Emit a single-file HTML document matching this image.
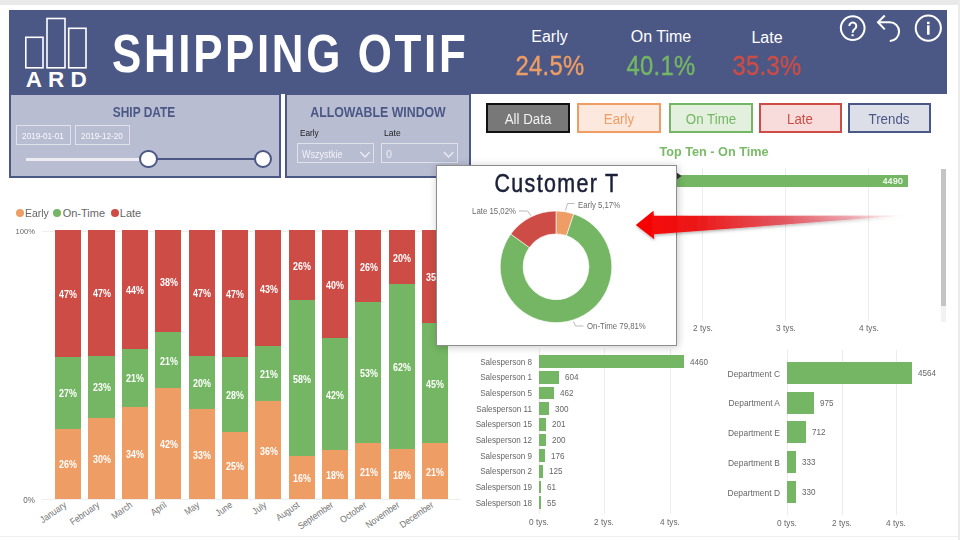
<!DOCTYPE html>
<html><head><meta charset="utf-8"><style>
html,body{margin:0;padding:0;}
body{width:960px;height:540px;overflow:hidden;background:#fff;position:relative;font-family:"Liberation Sans", sans-serif;}
.t{position:absolute;white-space:nowrap;}
.r{position:absolute;box-sizing:content-box;}
svg.r{overflow:visible;}
</style></head><body>
<div class="r" style="left:0px;top:0px;width:960px;height:5px;background:#e9e9e9;"></div>
<div class="r" style="left:958px;top:0px;width:2px;height:540px;background:#ebebeb;"></div>
<div class="r" style="left:0px;top:536px;width:958px;height:1px;background:#eeeeee;"></div>
<div class="r" style="left:9px;top:10px;width:937.6px;height:83.6px;background:#4b5886;"></div>
<svg class="r" style="left:0;top:0" width="120" height="100">
<g fill="none" stroke="#fff" stroke-width="1.6">
<rect x="25.8" y="37.3" width="17.2" height="30.5"/>
<rect x="47" y="18.5" width="18" height="49.3"/>
<rect x="68.7" y="28.3" width="17.3" height="39.5"/>
</g></svg>
<div class="t" style="left:-466.20px;width:1000px;top:68.75px;font-size:22.5px;line-height:22.5px;color:#fff;font-weight:bold;text-align:center;">A</div>
<div class="t" style="left:-444.00px;width:1000px;top:68.75px;font-size:22.5px;line-height:22.5px;color:#fff;font-weight:bold;text-align:center;">R</div>
<div class="t" style="left:-421.30px;width:1000px;top:68.75px;font-size:22.5px;line-height:22.5px;color:#fff;font-weight:bold;text-align:center;">D</div>
<div class="t" style="left:112.00px;top:26.71px;font-size:53.5px;line-height:53.5px;color:#fff;font-weight:bold;text-align:left;transform:scaleX(0.82);transform-origin:0 0;letter-spacing:3.25px;">SHIPPING OTIF</div>
<div class="t" style="left:49.50px;width:1000px;top:28.96px;font-size:16px;line-height:16px;color:#fff;font-weight:normal;text-align:center;">Early</div>
<div class="t" style="left:49.50px;width:1000px;top:52.30px;font-size:28px;line-height:28px;color:#ee9d64;font-weight:normal;text-align:center;transform:scaleX(0.85);transform-origin:50% 0;letter-spacing:0.4px;-webkit-text-stroke:0.4px #ee9d64;">24.5%</div>
<div class="t" style="left:161.00px;width:1000px;top:28.96px;font-size:16px;line-height:16px;color:#fff;font-weight:normal;text-align:center;">On Time</div>
<div class="t" style="left:161.00px;width:1000px;top:52.30px;font-size:28px;line-height:28px;color:#74b663;font-weight:normal;text-align:center;transform:scaleX(0.85);transform-origin:50% 0;letter-spacing:0.4px;-webkit-text-stroke:0.4px #74b663;">40.1%</div>
<div class="t" style="left:267.00px;width:1000px;top:30.46px;font-size:16px;line-height:16px;color:#fff;font-weight:normal;text-align:center;">Late</div>
<div class="t" style="left:267.00px;width:1000px;top:52.30px;font-size:28px;line-height:28px;color:#cd4d46;font-weight:normal;text-align:center;transform:scaleX(0.85);transform-origin:50% 0;letter-spacing:0.4px;-webkit-text-stroke:0.4px #cd4d46;">35.3%</div>
<svg class="r" style="left:830px;top:0" width="130" height="60">
<g fill="none" stroke="#fff" stroke-width="2">
<circle cx="22.7" cy="28.1" r="11.85"/>
<circle cx="98.3" cy="28.1" r="12.6"/>
<path d="M47.6 22.3 H59.8 A9.3 9.3 0 0 1 59.8 40.9 H61"/>
<path d="M54.75 15.5 L48 22.3 L54.75 29.4"/>
<path d="M98.3 25.3 V34.7" stroke-width="2.6"/>
<path d="M19.3 26 A3.5 3.5 0 1 1 24.9 28.8 Q22.6 30.2 22.6 32.8"/>
</g>
<rect x="97" y="21.7" width="2.6" height="2.4" fill="#fff"/>
<rect x="21.5" y="34.3" width="2.2" height="1.9" fill="#fff"/>
</svg>
<div class="r" style="left:9px;top:93px;width:268px;height:80.5px;background:#b8bdd2;border:2px solid #4b5886;"></div>
<div class="t" style="left:-356.00px;width:1000px;top:105.15px;font-size:14px;line-height:14px;color:#4b5886;font-weight:bold;text-align:center;transform:scaleX(0.85);transform-origin:50% 0;">SHIP DATE</div>
<div class="r" style="left:16px;top:125px;width:53px;height:17.5px;border:1px solid #dfe1eb;"></div>
<div class="r" style="left:75px;top:125px;width:52.7px;height:17.5px;border:1px solid #dfe1eb;"></div>
<div class="t" style="left:-457.00px;width:1000px;top:130.96px;font-size:9.5px;line-height:9.5px;color:#f8f9fc;font-weight:normal;text-align:center;transform:scaleX(0.86);transform-origin:50% 0;">2019-01-01</div>
<div class="t" style="left:-398.00px;width:1000px;top:130.96px;font-size:9.5px;line-height:9.5px;color:#f8f9fc;font-weight:normal;text-align:center;transform:scaleX(0.86);transform-origin:50% 0;">2019-12-20</div>
<div class="r" style="left:26px;top:158px;width:123px;height:2.5px;background:#ececf2;"></div>
<div class="r" style="left:148px;top:158px;width:115px;height:2px;background:#4b5886;"></div>
<div class="r" style="left:139.3px;top:149.8px;width:14.5px;height:14.5px;border-radius:50%;background:#fff;border:2px solid #4b5886;"></div>
<div class="r" style="left:253.7px;top:149.8px;width:14.5px;height:14.5px;border-radius:50%;background:#fff;border:2px solid #4b5886;"></div>
<div class="r" style="left:285px;top:93px;width:182px;height:80.5px;background:#b8bdd2;border:2px solid #4b5886;"></div>
<div class="t" style="left:-122.00px;width:1000px;top:105.15px;font-size:14px;line-height:14px;color:#4b5886;font-weight:bold;text-align:center;transform:scaleX(0.88);transform-origin:50% 0;">ALLOWABLE WINDOW</div>
<div class="t" style="left:299.50px;top:128.46px;font-size:9.5px;line-height:9.5px;color:#222;font-weight:normal;text-align:left;transform:scaleX(0.86);transform-origin:0 0;">Early</div>
<div class="t" style="left:383.50px;top:128.46px;font-size:9.5px;line-height:9.5px;color:#222;font-weight:normal;text-align:left;transform:scaleX(0.9);transform-origin:0 0;">Late</div>
<div class="r" style="left:297px;top:143px;width:75px;height:17.8px;border:1px solid #dfe1eb;"></div>
<div class="r" style="left:381px;top:143px;width:75px;height:17.8px;border:1px solid #dfe1eb;"></div>
<div class="t" style="left:301.50px;top:148.61px;font-size:10.5px;line-height:10.5px;color:#f2f3f8;font-weight:normal;text-align:left;transform:scaleX(0.86);transform-origin:0 0;">Wszystkie</div>
<div class="t" style="left:386.00px;top:148.61px;font-size:10.5px;line-height:10.5px;color:#eceef5;font-weight:normal;text-align:left;">0</div>
<svg class="r" style="left:0;top:0" width="480" height="180"><g fill="none" stroke="#eceef5" stroke-width="1.2">
<path d="M360.3 152 L365 157 L369.7 152"/><path d="M443.9 152 L448.6 157 L453.3 152"/></g></svg>
<div class="r" style="left:486px;top:103px;width:79.5px;height:25.6px;border:2px solid #111;background:#787878;"></div>
<div class="t" style="left:27.75px;width:1000px;top:112.35px;font-size:14px;line-height:14px;color:#f2f2f2;font-weight:normal;text-align:center;transform:scaleX(0.95);transform-origin:50% 0;">All Data</div>
<div class="r" style="left:577px;top:103px;width:80px;height:25.6px;border:2px solid #ee9d64;background:#fce8dd;"></div>
<div class="t" style="left:119.00px;width:1000px;top:112.35px;font-size:14px;line-height:14px;color:#ee9d64;font-weight:normal;text-align:center;transform:scaleX(0.95);transform-origin:50% 0;">Early</div>
<div class="r" style="left:669px;top:103px;width:79.5px;height:25.6px;border:2px solid #74b663;background:#e3f0dd;"></div>
<div class="t" style="left:210.75px;width:1000px;top:112.35px;font-size:14px;line-height:14px;color:#74b663;font-weight:normal;text-align:center;transform:scaleX(0.95);transform-origin:50% 0;">On Time</div>
<div class="r" style="left:758.5px;top:103px;width:79.5px;height:25.6px;border:2px solid #cd4d46;background:#f8dcdc;"></div>
<div class="t" style="left:300.25px;width:1000px;top:112.35px;font-size:14px;line-height:14px;color:#cd4d46;font-weight:normal;text-align:center;transform:scaleX(0.95);transform-origin:50% 0;">Late</div>
<div class="r" style="left:848px;top:103px;width:78.5px;height:25.6px;border:2px solid #4b5886;background:#dcdee8;"></div>
<div class="t" style="left:389.25px;width:1000px;top:112.35px;font-size:14px;line-height:14px;color:#4b5886;font-weight:normal;text-align:center;transform:scaleX(0.95);transform-origin:50% 0;">Trends</div>
<div class="t" style="left:214.00px;width:1000px;top:144.80px;font-size:13px;line-height:13px;color:#7aba68;font-weight:bold;text-align:center;transform:scaleX(0.975);transform-origin:50% 0;">Top Ten - On Time</div>
<div class="r" style="left:702px;top:168px;width:1px;height:153px;background:#ececec;"></div>
<div class="r" style="left:785px;top:168px;width:1px;height:153px;background:#ececec;"></div>
<div class="r" style="left:868px;top:168px;width:1px;height:153px;background:#ececec;"></div>
<div class="r" style="left:660px;top:174.8px;width:248.2px;height:11.9px;background:#74b663;"></div>
<div class="t" style="left:-97.30px;width:1000px;top:176.78px;font-size:9px;line-height:9px;color:#fff;font-weight:normal;text-align:right;transform:scaleX(0.95);transform-origin:100% 0;letter-spacing:0.3px;-webkit-text-stroke:0.2px #fff;">4490</div>
<div class="t" style="left:202.50px;width:1000px;top:323.88px;font-size:9px;line-height:9px;color:#666;font-weight:normal;text-align:center;transform:scaleX(0.92);transform-origin:50% 0;">2 tys.</div>
<div class="t" style="left:285.50px;width:1000px;top:323.88px;font-size:9px;line-height:9px;color:#666;font-weight:normal;text-align:center;transform:scaleX(0.92);transform-origin:50% 0;">3 tys.</div>
<div class="t" style="left:368.50px;width:1000px;top:323.88px;font-size:9px;line-height:9px;color:#666;font-weight:normal;text-align:center;transform:scaleX(0.92);transform-origin:50% 0;">4 tys.</div>
<div class="r" style="left:940.5px;top:168.5px;width:5.5px;height:153px;background:#f2f2f2;"></div>
<div class="r" style="left:941px;top:168.5px;width:5px;height:137.5px;background:#c4c4c4;"></div>
<svg class="r" style="left:672px;top:168px" width="12" height="16"><path d="M4 4 L9.5 8 L4 12 Z" fill="#333"/></svg>
<div class="r" style="left:539.2px;top:349px;width:1px;height:165px;background:#ececec;"></div>
<div class="r" style="left:604.4px;top:349px;width:1px;height:165px;background:#ececec;"></div>
<div class="r" style="left:669.6px;top:349px;width:1px;height:165px;background:#ececec;"></div>
<div class="r" style="left:539.2px;top:355.3px;width:144.504px;height:12.6px;background:#74b663;"></div>
<div class="t" style="left:-467.70px;width:1000px;top:357.58px;font-size:9px;line-height:9px;color:#666;font-weight:normal;text-align:right;transform:scaleX(0.9);transform-origin:100% 0;">Salesperson 8</div>
<div class="t" style="left:689.70px;top:357.58px;font-size:9px;line-height:9px;color:#666;font-weight:normal;text-align:left;transform:scaleX(0.9);transform-origin:0 0;">4460</div>
<div class="r" style="left:539.2px;top:370.96000000000004px;width:19.569599999999998px;height:12.6px;background:#74b663;"></div>
<div class="t" style="left:-467.70px;width:1000px;top:373.24px;font-size:9px;line-height:9px;color:#666;font-weight:normal;text-align:right;transform:scaleX(0.9);transform-origin:100% 0;">Salesperson 1</div>
<div class="t" style="left:564.77px;top:373.24px;font-size:9px;line-height:9px;color:#666;font-weight:normal;text-align:left;transform:scaleX(0.9);transform-origin:0 0;">604</div>
<div class="r" style="left:539.2px;top:386.62px;width:14.9688px;height:12.6px;background:#74b663;"></div>
<div class="t" style="left:-467.70px;width:1000px;top:388.90px;font-size:9px;line-height:9px;color:#666;font-weight:normal;text-align:right;transform:scaleX(0.9);transform-origin:100% 0;">Salesperson 5</div>
<div class="t" style="left:560.17px;top:388.90px;font-size:9px;line-height:9px;color:#666;font-weight:normal;text-align:left;transform:scaleX(0.9);transform-origin:0 0;">462</div>
<div class="r" style="left:539.2px;top:402.28000000000003px;width:9.719999999999999px;height:12.6px;background:#74b663;"></div>
<div class="t" style="left:-467.70px;width:1000px;top:404.56px;font-size:9px;line-height:9px;color:#666;font-weight:normal;text-align:right;transform:scaleX(0.9);transform-origin:100% 0;">Salesperson 11</div>
<div class="t" style="left:554.92px;top:404.56px;font-size:9px;line-height:9px;color:#666;font-weight:normal;text-align:left;transform:scaleX(0.9);transform-origin:0 0;">300</div>
<div class="r" style="left:539.2px;top:417.94px;width:6.5123999999999995px;height:12.6px;background:#74b663;"></div>
<div class="t" style="left:-467.70px;width:1000px;top:420.22px;font-size:9px;line-height:9px;color:#666;font-weight:normal;text-align:right;transform:scaleX(0.9);transform-origin:100% 0;">Salesperson 15</div>
<div class="t" style="left:551.71px;top:420.22px;font-size:9px;line-height:9px;color:#666;font-weight:normal;text-align:left;transform:scaleX(0.9);transform-origin:0 0;">201</div>
<div class="r" style="left:539.2px;top:433.6px;width:6.4799999999999995px;height:12.6px;background:#74b663;"></div>
<div class="t" style="left:-467.70px;width:1000px;top:435.88px;font-size:9px;line-height:9px;color:#666;font-weight:normal;text-align:right;transform:scaleX(0.9);transform-origin:100% 0;">Salesperson 12</div>
<div class="t" style="left:551.68px;top:435.88px;font-size:9px;line-height:9px;color:#666;font-weight:normal;text-align:left;transform:scaleX(0.9);transform-origin:0 0;">200</div>
<div class="r" style="left:539.2px;top:449.26000000000005px;width:5.7024px;height:12.6px;background:#74b663;"></div>
<div class="t" style="left:-467.70px;width:1000px;top:451.54px;font-size:9px;line-height:9px;color:#666;font-weight:normal;text-align:right;transform:scaleX(0.9);transform-origin:100% 0;">Salesperson 9</div>
<div class="t" style="left:550.90px;top:451.54px;font-size:9px;line-height:9px;color:#666;font-weight:normal;text-align:left;transform:scaleX(0.9);transform-origin:0 0;">176</div>
<div class="r" style="left:539.2px;top:464.92px;width:4.05px;height:12.6px;background:#74b663;"></div>
<div class="t" style="left:-467.70px;width:1000px;top:467.20px;font-size:9px;line-height:9px;color:#666;font-weight:normal;text-align:right;transform:scaleX(0.9);transform-origin:100% 0;">Salesperson 2</div>
<div class="t" style="left:549.25px;top:467.20px;font-size:9px;line-height:9px;color:#666;font-weight:normal;text-align:left;transform:scaleX(0.9);transform-origin:0 0;">125</div>
<div class="r" style="left:539.2px;top:480.58px;width:1.9764px;height:12.6px;background:#74b663;"></div>
<div class="t" style="left:-467.70px;width:1000px;top:482.86px;font-size:9px;line-height:9px;color:#666;font-weight:normal;text-align:right;transform:scaleX(0.9);transform-origin:100% 0;">Salesperson 19</div>
<div class="t" style="left:547.18px;top:482.86px;font-size:9px;line-height:9px;color:#666;font-weight:normal;text-align:left;transform:scaleX(0.9);transform-origin:0 0;">61</div>
<div class="r" style="left:539.2px;top:496.24px;width:1.7819999999999998px;height:12.6px;background:#74b663;"></div>
<div class="t" style="left:-467.70px;width:1000px;top:498.52px;font-size:9px;line-height:9px;color:#666;font-weight:normal;text-align:right;transform:scaleX(0.9);transform-origin:100% 0;">Salesperson 18</div>
<div class="t" style="left:546.98px;top:498.52px;font-size:9px;line-height:9px;color:#666;font-weight:normal;text-align:left;transform:scaleX(0.9);transform-origin:0 0;">55</div>
<div class="t" style="left:39.20px;width:1000px;top:518.38px;font-size:9px;line-height:9px;color:#666;font-weight:normal;text-align:center;transform:scaleX(0.92);transform-origin:50% 0;">0 tys.</div>
<div class="t" style="left:104.40px;width:1000px;top:518.38px;font-size:9px;line-height:9px;color:#666;font-weight:normal;text-align:center;transform:scaleX(0.92);transform-origin:50% 0;">2 tys.</div>
<div class="t" style="left:169.60px;width:1000px;top:518.38px;font-size:9px;line-height:9px;color:#666;font-weight:normal;text-align:center;transform:scaleX(0.92);transform-origin:50% 0;">4 tys.</div>
<div class="r" style="left:787px;top:350px;width:1px;height:165px;background:#ececec;"></div>
<div class="r" style="left:841.6px;top:350px;width:1px;height:165px;background:#ececec;"></div>
<div class="r" style="left:896.2px;top:350px;width:1px;height:165px;background:#ececec;"></div>
<div class="r" style="left:787px;top:361.79999999999995px;width:124.5972px;height:22.2px;background:#74b663;"></div>
<div class="t" style="left:-220.40px;width:1000px;top:368.76px;font-size:9.5px;line-height:9.5px;color:#666;font-weight:normal;text-align:right;transform:scaleX(0.887);transform-origin:100% 0;">Department C</div>
<div class="t" style="left:917.60px;top:368.88px;font-size:9px;line-height:9px;color:#666;font-weight:normal;text-align:left;transform:scaleX(0.9);transform-origin:0 0;">4564</div>
<div class="r" style="left:787px;top:391.49999999999994px;width:26.6175px;height:22.2px;background:#74b663;"></div>
<div class="t" style="left:-220.40px;width:1000px;top:398.46px;font-size:9.5px;line-height:9.5px;color:#666;font-weight:normal;text-align:right;transform:scaleX(0.887);transform-origin:100% 0;">Department A</div>
<div class="t" style="left:819.62px;top:398.58px;font-size:9px;line-height:9px;color:#666;font-weight:normal;text-align:left;transform:scaleX(0.9);transform-origin:0 0;">975</div>
<div class="r" style="left:787px;top:421.19999999999993px;width:19.4376px;height:22.2px;background:#74b663;"></div>
<div class="t" style="left:-220.40px;width:1000px;top:428.16px;font-size:9.5px;line-height:9.5px;color:#666;font-weight:normal;text-align:right;transform:scaleX(0.887);transform-origin:100% 0;">Department E</div>
<div class="t" style="left:812.44px;top:428.28px;font-size:9px;line-height:9px;color:#666;font-weight:normal;text-align:left;transform:scaleX(0.9);transform-origin:0 0;">712</div>
<div class="r" style="left:787px;top:450.9px;width:9.090900000000001px;height:22.2px;background:#74b663;"></div>
<div class="t" style="left:-220.40px;width:1000px;top:457.86px;font-size:9.5px;line-height:9.5px;color:#666;font-weight:normal;text-align:right;transform:scaleX(0.887);transform-origin:100% 0;">Department B</div>
<div class="t" style="left:802.09px;top:457.98px;font-size:9px;line-height:9px;color:#666;font-weight:normal;text-align:left;transform:scaleX(0.9);transform-origin:0 0;">333</div>
<div class="r" style="left:787px;top:480.59999999999997px;width:9.009px;height:22.2px;background:#74b663;"></div>
<div class="t" style="left:-220.40px;width:1000px;top:487.56px;font-size:9.5px;line-height:9.5px;color:#666;font-weight:normal;text-align:right;transform:scaleX(0.887);transform-origin:100% 0;">Department D</div>
<div class="t" style="left:802.01px;top:487.68px;font-size:9px;line-height:9px;color:#666;font-weight:normal;text-align:left;transform:scaleX(0.9);transform-origin:0 0;">330</div>
<div class="t" style="left:287.00px;width:1000px;top:518.88px;font-size:9px;line-height:9px;color:#666;font-weight:normal;text-align:center;transform:scaleX(0.92);transform-origin:50% 0;">0 tys.</div>
<div class="t" style="left:341.60px;width:1000px;top:518.88px;font-size:9px;line-height:9px;color:#666;font-weight:normal;text-align:center;transform:scaleX(0.92);transform-origin:50% 0;">2 tys.</div>
<div class="t" style="left:396.20px;width:1000px;top:518.88px;font-size:9px;line-height:9px;color:#666;font-weight:normal;text-align:center;transform:scaleX(0.92);transform-origin:50% 0;">4 tys.</div>
<div class="r" style="left:15.5px;top:209.3px;width:8px;height:8px;border-radius:50%;background:#ee9d64"></div>
<div class="r" style="left:52.7px;top:209.3px;width:8px;height:8px;border-radius:50%;background:#74b663"></div>
<div class="r" style="left:111px;top:209.3px;width:8px;height:8px;border-radius:50%;background:#cd4d46"></div>
<div class="t" style="left:25.00px;top:208.19px;font-size:11px;line-height:11px;color:#666;font-weight:normal;text-align:left;transform:scaleX(0.95);transform-origin:0 0;">Early</div>
<div class="t" style="left:62.70px;top:208.19px;font-size:11px;line-height:11px;color:#666;font-weight:normal;text-align:left;">On-Time</div>
<div class="t" style="left:119.80px;top:208.19px;font-size:11px;line-height:11px;color:#666;font-weight:normal;text-align:left;">Late</div>
<div class="t" style="left:-965.00px;width:1000px;top:227.83px;font-size:8px;line-height:8px;color:#666;font-weight:normal;text-align:right;transform:scaleX(0.95);transform-origin:100% 0;">100%</div>
<div class="t" style="left:-965.00px;width:1000px;top:495.80px;font-size:8.5px;line-height:8.5px;color:#666;font-weight:normal;text-align:right;transform:scaleX(0.95);transform-origin:100% 0;">0%</div>
<div class="r" style="left:42px;top:230.5px;width:419px;height:1px;background:#eeeeee;"></div>
<div class="r" style="left:42px;top:499.3px;width:419px;height:1px;background:#eeeeee;"></div>
<div class="r" style="left:55.10px;top:230.30px;width:26.1px;height:126.43px;background:#cd4d46"></div>
<div class="r" style="left:55.10px;top:356.73px;width:26.1px;height:71.82px;background:#74b663"></div>
<div class="r" style="left:55.10px;top:428.55px;width:26.1px;height:70.75px;background:#ee9d64"></div>
<div class="t" style="left:-431.55px;width:1000px;top:289.03px;font-size:10.5px;line-height:10.5px;color:#fff;font-weight:bold;text-align:center;transform:scaleX(0.85);transform-origin:50% 0;">47%</div>
<div class="t" style="left:-431.55px;width:1000px;top:388.15px;font-size:10.5px;line-height:10.5px;color:#fff;font-weight:bold;text-align:center;transform:scaleX(0.85);transform-origin:50% 0;">27%</div>
<div class="t" style="left:-431.55px;width:1000px;top:459.44px;font-size:10.5px;line-height:10.5px;color:#fff;font-weight:bold;text-align:center;transform:scaleX(0.85);transform-origin:50% 0;">26%</div>
<div class="t" style="left:-938.35px;top:499.00px;width:1000px;text-align:right;font-size:9.5px;line-height:11px;color:#727272;transform-origin:100% 0;transform:rotate(-35deg) scaleX(0.88);">January</div>
<div class="r" style="left:88.46px;top:230.30px;width:26.1px;height:125.35px;background:#cd4d46"></div>
<div class="r" style="left:88.46px;top:355.65px;width:26.1px;height:62.14px;background:#74b663"></div>
<div class="r" style="left:88.46px;top:417.79px;width:26.1px;height:81.51px;background:#ee9d64"></div>
<div class="t" style="left:-398.19px;width:1000px;top:288.49px;font-size:10.5px;line-height:10.5px;color:#fff;font-weight:bold;text-align:center;transform:scaleX(0.85);transform-origin:50% 0;">47%</div>
<div class="t" style="left:-398.19px;width:1000px;top:382.24px;font-size:10.5px;line-height:10.5px;color:#fff;font-weight:bold;text-align:center;transform:scaleX(0.85);transform-origin:50% 0;">23%</div>
<div class="t" style="left:-398.19px;width:1000px;top:454.06px;font-size:10.5px;line-height:10.5px;color:#fff;font-weight:bold;text-align:center;transform:scaleX(0.85);transform-origin:50% 0;">30%</div>
<div class="t" style="left:-904.99px;top:499.00px;width:1000px;text-align:right;font-size:9.5px;line-height:11px;color:#727272;transform-origin:100% 0;transform:rotate(-35deg) scaleX(0.88);">February</div>
<div class="r" style="left:121.82px;top:230.30px;width:26.1px;height:118.63px;background:#cd4d46"></div>
<div class="r" style="left:121.82px;top:348.93px;width:26.1px;height:57.84px;background:#74b663"></div>
<div class="r" style="left:121.82px;top:406.76px;width:26.1px;height:92.54px;background:#ee9d64"></div>
<div class="t" style="left:-364.83px;width:1000px;top:285.13px;font-size:10.5px;line-height:10.5px;color:#fff;font-weight:bold;text-align:center;transform:scaleX(0.85);transform-origin:50% 0;">44%</div>
<div class="t" style="left:-364.83px;width:1000px;top:373.36px;font-size:10.5px;line-height:10.5px;color:#fff;font-weight:bold;text-align:center;transform:scaleX(0.85);transform-origin:50% 0;">21%</div>
<div class="t" style="left:-364.83px;width:1000px;top:448.54px;font-size:10.5px;line-height:10.5px;color:#fff;font-weight:bold;text-align:center;transform:scaleX(0.85);transform-origin:50% 0;">34%</div>
<div class="t" style="left:-871.63px;top:499.00px;width:1000px;text-align:right;font-size:9.5px;line-height:11px;color:#727272;transform-origin:100% 0;transform:rotate(-35deg) scaleX(0.88);">March</div>
<div class="r" style="left:155.18px;top:230.30px;width:26.1px;height:101.68px;background:#cd4d46"></div>
<div class="r" style="left:155.18px;top:331.98px;width:26.1px;height:56.22px;background:#74b663"></div>
<div class="r" style="left:155.18px;top:388.20px;width:26.1px;height:111.10px;background:#ee9d64"></div>
<div class="t" style="left:-331.47px;width:1000px;top:276.65px;font-size:10.5px;line-height:10.5px;color:#fff;font-weight:bold;text-align:center;transform:scaleX(0.85);transform-origin:50% 0;">38%</div>
<div class="t" style="left:-331.47px;width:1000px;top:355.60px;font-size:10.5px;line-height:10.5px;color:#fff;font-weight:bold;text-align:center;transform:scaleX(0.85);transform-origin:50% 0;">21%</div>
<div class="t" style="left:-331.47px;width:1000px;top:439.26px;font-size:10.5px;line-height:10.5px;color:#fff;font-weight:bold;text-align:center;transform:scaleX(0.85);transform-origin:50% 0;">42%</div>
<div class="t" style="left:-838.27px;top:499.00px;width:1000px;text-align:right;font-size:9.5px;line-height:11px;color:#727272;transform-origin:100% 0;transform:rotate(-35deg) scaleX(0.88);">April</div>
<div class="r" style="left:188.54px;top:230.30px;width:26.1px;height:125.35px;background:#cd4d46"></div>
<div class="r" style="left:188.54px;top:355.65px;width:26.1px;height:53.26px;background:#74b663"></div>
<div class="r" style="left:188.54px;top:408.92px;width:26.1px;height:90.38px;background:#ee9d64"></div>
<div class="t" style="left:-298.11px;width:1000px;top:288.49px;font-size:10.5px;line-height:10.5px;color:#fff;font-weight:bold;text-align:center;transform:scaleX(0.85);transform-origin:50% 0;">47%</div>
<div class="t" style="left:-298.11px;width:1000px;top:377.80px;font-size:10.5px;line-height:10.5px;color:#fff;font-weight:bold;text-align:center;transform:scaleX(0.85);transform-origin:50% 0;">20%</div>
<div class="t" style="left:-298.11px;width:1000px;top:449.62px;font-size:10.5px;line-height:10.5px;color:#fff;font-weight:bold;text-align:center;transform:scaleX(0.85);transform-origin:50% 0;">33%</div>
<div class="t" style="left:-804.91px;top:499.00px;width:1000px;text-align:right;font-size:9.5px;line-height:11px;color:#727272;transform-origin:100% 0;transform:rotate(-35deg) scaleX(0.88);">May</div>
<div class="r" style="left:221.90px;top:230.30px;width:26.1px;height:126.43px;background:#cd4d46"></div>
<div class="r" style="left:221.90px;top:356.73px;width:26.1px;height:75.05px;background:#74b663"></div>
<div class="r" style="left:221.90px;top:431.78px;width:26.1px;height:67.52px;background:#ee9d64"></div>
<div class="t" style="left:-264.75px;width:1000px;top:289.03px;font-size:10.5px;line-height:10.5px;color:#fff;font-weight:bold;text-align:center;transform:scaleX(0.85);transform-origin:50% 0;">47%</div>
<div class="t" style="left:-264.75px;width:1000px;top:389.77px;font-size:10.5px;line-height:10.5px;color:#fff;font-weight:bold;text-align:center;transform:scaleX(0.85);transform-origin:50% 0;">28%</div>
<div class="t" style="left:-264.75px;width:1000px;top:461.05px;font-size:10.5px;line-height:10.5px;color:#fff;font-weight:bold;text-align:center;transform:scaleX(0.85);transform-origin:50% 0;">25%</div>
<div class="t" style="left:-771.55px;top:499.00px;width:1000px;text-align:right;font-size:9.5px;line-height:11px;color:#727272;transform-origin:100% 0;transform:rotate(-35deg) scaleX(0.88);">June</div>
<div class="r" style="left:255.26px;top:230.30px;width:26.1px;height:115.67px;background:#cd4d46"></div>
<div class="r" style="left:255.26px;top:345.97px;width:26.1px;height:55.41px;background:#74b663"></div>
<div class="r" style="left:255.26px;top:401.38px;width:26.1px;height:97.92px;background:#ee9d64"></div>
<div class="t" style="left:-231.39px;width:1000px;top:283.65px;font-size:10.5px;line-height:10.5px;color:#fff;font-weight:bold;text-align:center;transform:scaleX(0.85);transform-origin:50% 0;">43%</div>
<div class="t" style="left:-231.39px;width:1000px;top:369.19px;font-size:10.5px;line-height:10.5px;color:#fff;font-weight:bold;text-align:center;transform:scaleX(0.85);transform-origin:50% 0;">21%</div>
<div class="t" style="left:-231.39px;width:1000px;top:445.85px;font-size:10.5px;line-height:10.5px;color:#fff;font-weight:bold;text-align:center;transform:scaleX(0.85);transform-origin:50% 0;">36%</div>
<div class="t" style="left:-738.19px;top:499.00px;width:1000px;text-align:right;font-size:9.5px;line-height:11px;color:#727272;transform-origin:100% 0;transform:rotate(-35deg) scaleX(0.88);">July</div>
<div class="r" style="left:288.62px;top:230.30px;width:26.1px;height:69.94px;background:#cd4d46"></div>
<div class="r" style="left:288.62px;top:300.24px;width:26.1px;height:155.75px;background:#74b663"></div>
<div class="r" style="left:288.62px;top:455.99px;width:26.1px;height:43.31px;background:#ee9d64"></div>
<div class="t" style="left:-198.03px;width:1000px;top:260.78px;font-size:10.5px;line-height:10.5px;color:#fff;font-weight:bold;text-align:center;transform:scaleX(0.85);transform-origin:50% 0;">26%</div>
<div class="t" style="left:-198.03px;width:1000px;top:373.63px;font-size:10.5px;line-height:10.5px;color:#fff;font-weight:bold;text-align:center;transform:scaleX(0.85);transform-origin:50% 0;">58%</div>
<div class="t" style="left:-198.03px;width:1000px;top:473.16px;font-size:10.5px;line-height:10.5px;color:#fff;font-weight:bold;text-align:center;transform:scaleX(0.85);transform-origin:50% 0;">16%</div>
<div class="t" style="left:-704.83px;top:499.00px;width:1000px;text-align:right;font-size:9.5px;line-height:11px;color:#727272;transform-origin:100% 0;transform:rotate(-35deg) scaleX(0.88);">August</div>
<div class="r" style="left:321.98px;top:230.30px;width:26.1px;height:107.87px;background:#cd4d46"></div>
<div class="r" style="left:321.98px;top:338.17px;width:26.1px;height:111.90px;background:#74b663"></div>
<div class="r" style="left:321.98px;top:450.07px;width:26.1px;height:49.23px;background:#ee9d64"></div>
<div class="t" style="left:-164.67px;width:1000px;top:279.75px;font-size:10.5px;line-height:10.5px;color:#fff;font-weight:bold;text-align:center;transform:scaleX(0.85);transform-origin:50% 0;">40%</div>
<div class="t" style="left:-164.67px;width:1000px;top:389.63px;font-size:10.5px;line-height:10.5px;color:#fff;font-weight:bold;text-align:center;transform:scaleX(0.85);transform-origin:50% 0;">42%</div>
<div class="t" style="left:-164.67px;width:1000px;top:470.20px;font-size:10.5px;line-height:10.5px;color:#fff;font-weight:bold;text-align:center;transform:scaleX(0.85);transform-origin:50% 0;">18%</div>
<div class="t" style="left:-671.47px;top:499.00px;width:1000px;text-align:right;font-size:9.5px;line-height:11px;color:#727272;transform-origin:100% 0;transform:rotate(-35deg) scaleX(0.88);">September</div>
<div class="r" style="left:355.34px;top:230.30px;width:26.1px;height:72.09px;background:#cd4d46"></div>
<div class="r" style="left:355.34px;top:302.39px;width:26.1px;height:140.69px;background:#74b663"></div>
<div class="r" style="left:355.34px;top:443.08px;width:26.1px;height:56.22px;background:#ee9d64"></div>
<div class="t" style="left:-131.31px;width:1000px;top:261.86px;font-size:10.5px;line-height:10.5px;color:#fff;font-weight:bold;text-align:center;transform:scaleX(0.85);transform-origin:50% 0;">26%</div>
<div class="t" style="left:-131.31px;width:1000px;top:368.25px;font-size:10.5px;line-height:10.5px;color:#fff;font-weight:bold;text-align:center;transform:scaleX(0.85);transform-origin:50% 0;">53%</div>
<div class="t" style="left:-131.31px;width:1000px;top:466.70px;font-size:10.5px;line-height:10.5px;color:#fff;font-weight:bold;text-align:center;transform:scaleX(0.85);transform-origin:50% 0;">21%</div>
<div class="t" style="left:-638.11px;top:499.00px;width:1000px;text-align:right;font-size:9.5px;line-height:11px;color:#727272;transform-origin:100% 0;transform:rotate(-35deg) scaleX(0.88);">October</div>
<div class="r" style="left:388.70px;top:230.30px;width:26.1px;height:53.80px;background:#cd4d46"></div>
<div class="r" style="left:388.70px;top:284.10px;width:26.1px;height:165.17px;background:#74b663"></div>
<div class="r" style="left:388.70px;top:449.27px;width:26.1px;height:50.03px;background:#ee9d64"></div>
<div class="t" style="left:-97.95px;width:1000px;top:252.71px;font-size:10.5px;line-height:10.5px;color:#fff;font-weight:bold;text-align:center;transform:scaleX(0.85);transform-origin:50% 0;">20%</div>
<div class="t" style="left:-97.95px;width:1000px;top:362.19px;font-size:10.5px;line-height:10.5px;color:#fff;font-weight:bold;text-align:center;transform:scaleX(0.85);transform-origin:50% 0;">62%</div>
<div class="t" style="left:-97.95px;width:1000px;top:469.79px;font-size:10.5px;line-height:10.5px;color:#fff;font-weight:bold;text-align:center;transform:scaleX(0.85);transform-origin:50% 0;">18%</div>
<div class="t" style="left:-604.75px;top:499.00px;width:1000px;text-align:right;font-size:9.5px;line-height:11px;color:#727272;transform-origin:100% 0;transform:rotate(-35deg) scaleX(0.88);">November</div>
<div class="r" style="left:422.06px;top:230.30px;width:26.1px;height:92.81px;background:#cd4d46"></div>
<div class="r" style="left:422.06px;top:323.11px;width:26.1px;height:119.97px;background:#74b663"></div>
<div class="r" style="left:422.06px;top:443.08px;width:26.1px;height:56.22px;background:#ee9d64"></div>
<div class="t" style="left:-64.59px;width:1000px;top:272.21px;font-size:10.5px;line-height:10.5px;color:#fff;font-weight:bold;text-align:center;transform:scaleX(0.85);transform-origin:50% 0;">35%</div>
<div class="t" style="left:-64.59px;width:1000px;top:378.60px;font-size:10.5px;line-height:10.5px;color:#fff;font-weight:bold;text-align:center;transform:scaleX(0.85);transform-origin:50% 0;">45%</div>
<div class="t" style="left:-64.59px;width:1000px;top:466.70px;font-size:10.5px;line-height:10.5px;color:#fff;font-weight:bold;text-align:center;transform:scaleX(0.85);transform-origin:50% 0;">21%</div>
<div class="t" style="left:-571.39px;top:499.00px;width:1000px;text-align:right;font-size:9.5px;line-height:11px;color:#727272;transform-origin:100% 0;transform:rotate(-35deg) scaleX(0.88);">December</div>
<div class="r" style="left:436px;top:164.5px;width:238.5px;height:179.4px;background:#fff;border:1.5px solid #8c8c8c;box-shadow:1px 1px 8px rgba(0,0,0,0.22);"></div>
<div class="t" style="left:57.00px;width:1000px;top:170.71px;font-size:25.5px;line-height:25.5px;color:#1b2038;font-weight:normal;text-align:center;transform:scaleX(0.84);transform-origin:50% 0;letter-spacing:1.6px;-webkit-text-stroke:0.5px #1b2038;">Customer T</div>
<svg class="r" style="left:0;top:0" width="960" height="540"><path d="M556.00 211.00 A55.8 55.8 0 0 1 573.81 213.92 L566.50 235.62 A32.9 32.9 0 0 0 556.00 233.90 Z" fill="#ee9d64" stroke="#fff" stroke-width="0.6"/><path d="M573.81 213.92 A55.8 55.8 0 1 1 510.82 234.06 L529.36 247.50 A32.9 32.9 0 1 0 566.50 235.62 Z" fill="#74b663" stroke="#fff" stroke-width="0.6"/><path d="M510.82 234.06 A55.8 55.8 0 0 1 556.00 211.00 L556.00 233.90 A32.9 32.9 0 0 0 529.36 247.50 Z" fill="#cd4d46" stroke="#fff" stroke-width="0.6"/><g fill="none" stroke="#aaa" stroke-width="0.8"><path d="M519 211 H527.5 L531 215.8"/><path d="M574.5 203.5 H567.5 L565.5 210.5"/><path d="M583.5 326 H575.5 L573.5 321.5"/></g><defs><linearGradient id="ag" x1="636" y1="0" x2="905" y2="0" gradientUnits="userSpaceOnUse"><stop offset="0" stop-color="#f80000"/><stop offset="0.25" stop-color="#ea1c1c"/><stop offset="0.55" stop-color="#e34d57" stop-opacity="0.92"/><stop offset="0.8" stop-color="#e8707c" stop-opacity="0.55"/><stop offset="1" stop-color="#f0a0a8" stop-opacity="0"/></linearGradient></defs><filter id="sh" x="-10%" y="-50%" width="120%" height="200%"><feDropShadow dx="0.5" dy="1.5" stdDeviation="1.5" flood-color="#000" flood-opacity="0.3"/></filter><path d="M635.8 225 L653.5 210.8 L653.8 215.8 L906 215.6 L654 234.3 L654.2 239.2 Z" fill="url(#ag)" filter="url(#sh)"/></svg>
<div class="t" style="left:-484.50px;width:1000px;top:206.80px;font-size:8.5px;line-height:8.5px;color:#6a6a6a;font-weight:normal;text-align:right;transform:scaleX(0.92);transform-origin:100% 0;">Late 15,02%</div>
<div class="t" style="left:577.80px;top:200.80px;font-size:8.5px;line-height:8.5px;color:#6a6a6a;font-weight:normal;text-align:left;transform:scaleX(0.92);transform-origin:0 0;">Early 5,17%</div>
<div class="t" style="left:586.60px;top:321.70px;font-size:8.5px;line-height:8.5px;color:#6a6a6a;font-weight:normal;text-align:left;transform:scaleX(0.92);transform-origin:0 0;">On-Time 79,81%</div>
</body></html>
